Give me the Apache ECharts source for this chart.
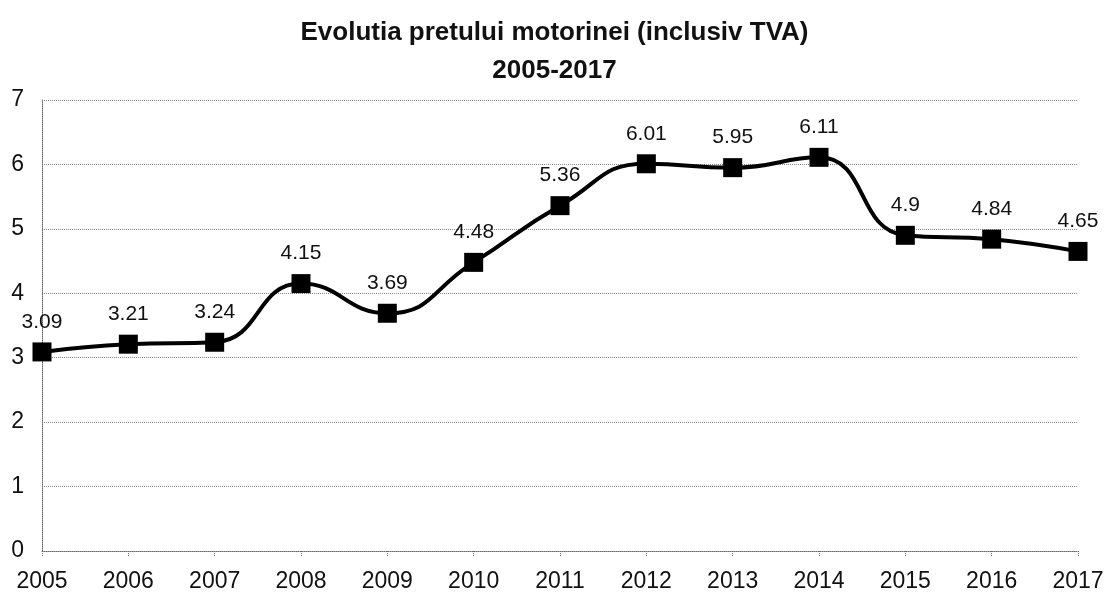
<!DOCTYPE html>
<html>
<head>
<meta charset="utf-8">
<script src="https://cdn.jsdelivr.net/npm/echarts@6/dist/echarts.min.js"></script>
<style>
  html, body { margin: 0; padding: 0; background: #fff; }
  #chart { width: 1109px; height: 596px; }
</style>
</head>
<body>
<div id="chart"></div>
<script>
  // ani si pretul motorinei (lei/litru)
  var years = ['2005', '2006', '2007', '2008', '2009', '2010', '2011', '2012', '2013', '2014', '2015', '2016', '2017'];
  var prices = [3.09, 3.21, 3.24, 4.15, 3.69, 4.48, 5.36, 6.01, 5.95, 6.11, 4.9, 4.84, 4.65];
  var yTicks = [0, 1, 2, 3, 4, 5, 6, 7];

  var myChart = echarts.init(document.getElementById('chart'));
  var option = {
    backgroundColor: '#fff',
    animation: false,
    title: {
      text: 'Evolutia pretului motorinei (inclusiv TVA)\n2005-2017',
      left: 'center',
      top: 9,
      textStyle: {
        fontFamily: 'Liberation Sans',
        fontSize: 26,
        fontWeight: 'bold',
        color: '#111',
        lineHeight: 38
      }
    },
    grid: {
      left: 42,
      right: 31,
      top: 100,
      bottom: 45
    },
    xAxis: {
      type: 'category',
      data: years,
      boundaryGap: false,
      axisLine: { lineStyle: { color: '#666', type: 'dotted', width: 1 } },
      axisTick: { show: true, length: 6, lineStyle: { color: '#666', type: 'dotted' } },
      axisLabel: {
        fontFamily: 'Liberation Sans',
        fontSize: 23,
        color: '#111',
        margin: 19
      },
      splitLine: { show: false }
    },
    yAxis: {
      type: 'value',
      min: yTicks[0],
      max: yTicks[yTicks.length - 1],
      interval: 1,
      axisLine: { show: true, lineStyle: { color: '#666', type: 'dotted', width: 1 } },
      axisTick: { show: false },
      axisLabel: {
        fontFamily: 'Liberation Sans',
        fontSize: 23,
        color: '#111',
        margin: 18
      },
      splitLine: { show: true, lineStyle: { color: '#888', type: 'dotted', width: 1 } }
    },
    series: [{
      type: 'line',
      data: prices,
      smooth: 0.5,
      symbol: 'rect',
      symbolSize: 19,
      lineStyle: { color: '#000', width: 4 },
      itemStyle: { color: '#000' },
      label: {
        show: true,
        position: 'top',
        distance: 10,
        fontFamily: 'Liberation Sans',
        fontSize: 21,
        color: '#111'
      }
    }]
  };
  myChart.setOption(option);
</script>
</body>
</html>
